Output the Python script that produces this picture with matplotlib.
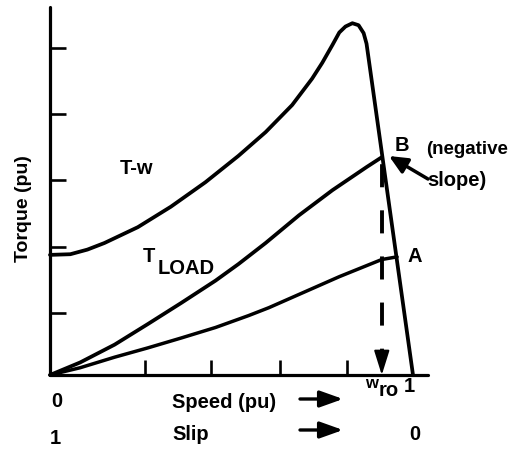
import matplotlib
matplotlib.use('Agg')
import matplotlib.pyplot as plt

plt.rcParams['font.family'] = ['Liberation Sans', 'DejaVu Sans']
plt.rcParams['lines.scale_dashes'] = False

# ---- data (speed in pu, torque in tick units) ----
tw_speed = [0.0, 0.056, 0.103, 0.15, 0.242, 0.333, 0.428, 0.519, 0.594, 0.667,
            0.722, 0.75, 0.778, 0.797, 0.814, 0.833, 0.85, 0.864, 0.872, 1.0]
tw_torque = [1.82, 1.83, 1.90, 2.0, 2.24, 2.55, 2.92, 3.32, 3.68, 4.09,
             4.49, 4.73, 5.0, 5.19, 5.28, 5.33, 5.30, 5.18, 5.02, 0.0]

load_hi_speed = [0.0, 0.083, 0.178, 0.269, 0.361, 0.456, 0.519, 0.594,
                 0.686, 0.778, 0.872, 0.914]
load_hi_torque = [0.0, 0.19, 0.46, 0.77, 1.09, 1.43, 1.68, 2.0,
                  2.42, 2.80, 3.15, 3.30]

load_lo_speed = [0.0, 0.083, 0.178, 0.269, 0.361, 0.456, 0.547, 0.603,
                 0.797, 0.914, 0.956]
load_lo_torque = [0.0, 0.11, 0.27, 0.41, 0.56, 0.72, 0.90, 1.02,
                  1.49, 1.75, 1.79]

w_ro = 0.914          # operating speed at point B
T_B = 3.30            # torque at point B

x_tick_pos = [0.261, 0.444, 0.633, 0.817]
y_tick_pos = [0.94, 1.94, 2.95, 3.95, 4.95]

W, H = 513, 453
ox, oy = 50, 375           # origin pixel
sx, sy = 363, 66           # pixels per unit


def fp(x, y):
    return (x / W, 1 - y / H)


fig = plt.figure(figsize=(W / 100, H / 100), dpi=100)
ax = fig.add_axes([ox / W, (H - oy) / H, (428 - ox) / W, (oy - 7) / H])
ax.set_xlim(0, (428 - ox) / sx)
ax.set_ylim(0, (oy - 7) / sy)

for s in ['top', 'right']:
    ax.spines[s].set_visible(False)
for s in ['left', 'bottom']:
    ax.spines[s].set_linewidth(2.3)
    ax.spines[s].set_capstyle('round')

ax.set_xticks(x_tick_pos)
ax.set_yticks(y_tick_pos)
ax.set_xticklabels([])
ax.set_yticklabels([])
ax.tick_params(axis='x', direction='in', length=10.5, width=1.9)
ax.tick_params(axis='y', direction='in', length=11.5, width=1.9)

kw = dict(color='black', solid_capstyle='round', solid_joinstyle='round', clip_on=False)
ax.plot(tw_speed, tw_torque, lw=2.7, **kw)
ax.plot(load_hi_speed, load_hi_torque, lw=2.7, **kw)
ax.plot(load_lo_speed, load_lo_torque, lw=2.5, **kw)

# dashed drop line from B to the speed axis
ax.plot([w_ro, w_ro], [T_B, 0.36], color='black', lw=2.8,
        linestyle=(28.0, (16.6, 16.6)))
ax.annotate('', xy=(w_ro, 0.0), xytext=(w_ro, 0.36),
            arrowprops=dict(arrowstyle='-|>,head_length=1.5,head_width=0.47',
                            mutation_scale=10, color='black', lw=1.5,
                            shrinkA=0, shrinkB=0))

fs = 14.5
tk = dict(fontsize=fs, fontweight='bold')
fig.text(*fp(24, 209), 'Torque (pu)', rotation=90, ha='center', va='center',
         fontsize=14, fontweight='bold')
fig.text(*fp(137, 169), 'T-w', ha='center', va='center', **tk)
fig.text(*fp(149, 257), 'T', ha='center', va='center', **tk)
fig.text(*fp(186, 268), 'LOAD', ha='center', va='center', **tk)
fig.text(*fp(402, 145), 'B', ha='center', va='center', **tk)
fig.text(*fp(426, 150), '(negative', ha='left', va='center', fontsize=13.5, fontweight='bold')
fig.text(*fp(427, 180), 'slope)', ha='left', va='center', **tk)
fig.text(*fp(415, 256), 'A', ha='center', va='center', **tk)


def fig_arrow(tip, tail, hl, hw, lw):
    ax.annotate('', xy=fp(*tip), xytext=fp(*tail),
                xycoords='figure fraction', textcoords='figure fraction',
                annotation_clip=False,
                arrowprops=dict(arrowstyle=f'-|>,head_length={hl},head_width={hw}',
                                mutation_scale=10, color='black', lw=lw,
                                shrinkA=0, shrinkB=0))


fig_arrow((389, 156), (428, 179), 1.1, 0.5, 2.5)

# bottom labels
fig.text(*fp(57, 407), '0', ha='center', va='baseline', **tk)
fig.text(*fp(172, 408), 'Speed (pu)', ha='left', va='baseline', **tk)
fig.text(*fp(371, 383), 'w', ha='center', va='center', fontsize=12, fontweight='bold')
fig.text(*fp(389, 391), 'ro', ha='center', va='center', **tk)
fig.text(*fp(409, 386), '1', ha='center', va='center', **tk)

fig.text(*fp(55, 444), '1', ha='center', va='baseline', **tk)
fig.text(*fp(172, 440), 'Slip', ha='left', va='baseline', **tk)
fig.text(*fp(415, 435), '0', ha='center', va='center', **tk)

for yy in (399, 430):
    fig_arrow((343, yy), (300, yy), 1.4, 0.5, 2.4)

fig.savefig('out.png', dpi=100)
